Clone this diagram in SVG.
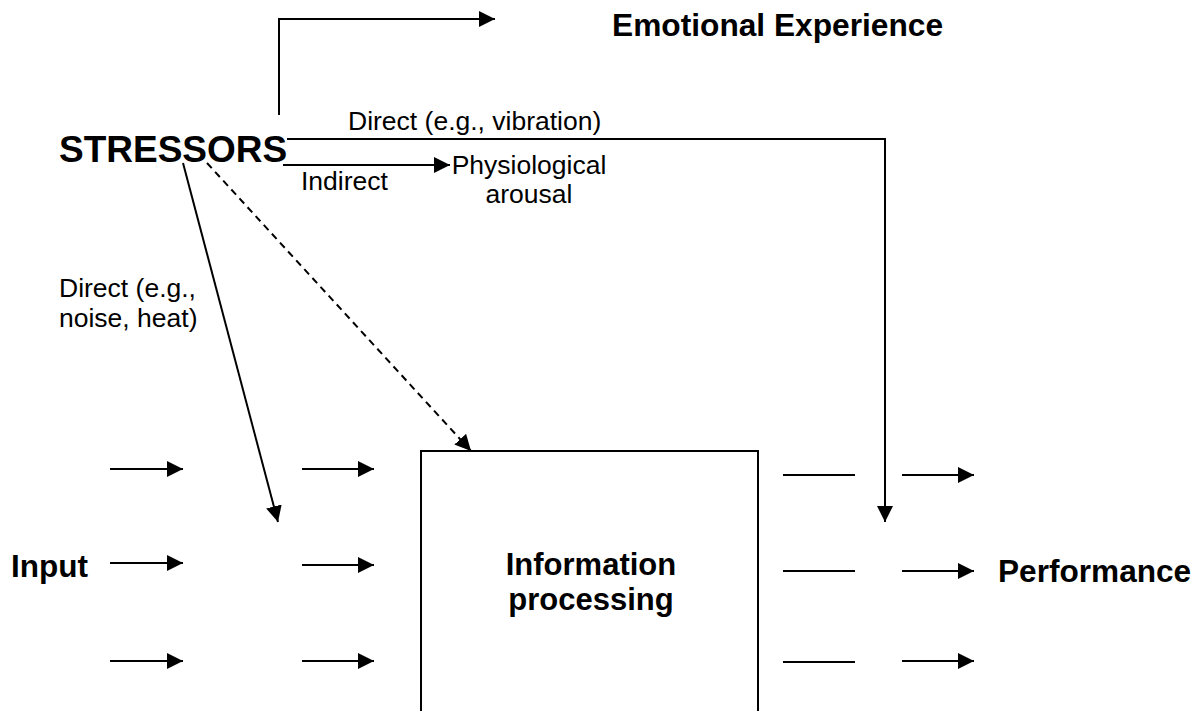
<svg xmlns="http://www.w3.org/2000/svg" width="1204" height="711" viewBox="0 0 1204 711">
<style>
.ln{fill:none;stroke:#000;stroke-width:2}
.dash{stroke-dasharray:7 5}
.bold{font-family:"Liberation Sans",Arial,sans-serif;font-weight:bold;fill:#000}
.reg{font-family:"Liberation Sans",Arial,sans-serif;fill:#000;font-size:26.5px}
</style>
<defs>
<marker id="ah" markerUnits="userSpaceOnUse" markerWidth="16" markerHeight="16" refX="16" refY="8" orient="auto">
<path d="M0,0 L16,8 L0,16 z" fill="#000"/>
</marker>
</defs>
<rect width="1204" height="711" fill="#fff"/>
<g id="stressors"><text class="bold" x="59" y="162" font-size="37">STRESSORS</text></g>
<g id="emotional"><text class="bold" x="612" y="36" font-size="31.7">Emotional Experience</text></g>
<g id="physio"><text class="reg" x="529" y="174" text-anchor="middle">Physiological</text><text class="reg" x="529" y="203" text-anchor="middle">arousal</text></g>
<g id="input"><text class="bold" x="11" y="577" font-size="31.5">Input</text></g>
<g id="box"><rect x="421" y="451" width="337" height="280" fill="none" stroke="#000" stroke-width="2"/>
<text class="bold" x="591" y="575" font-size="31" text-anchor="middle">Information</text>
<text class="bold" x="591" y="610" font-size="31" text-anchor="middle">processing</text></g>
<g id="performance"><text class="bold" x="998" y="582" font-size="31.6">Performance</text></g>
<g id="labels">
<text class="reg" x="348" y="130">Direct (e.g., vibration)</text>
<text class="reg" x="301" y="190">Indirect</text>
<text class="reg" x="59" y="297">Direct (e.g.,</text>
<text class="reg" x="59" y="327">noise, heat)</text>
</g>
<g id="connectors">
<path class="ln" d="M279,115 V19 H495" marker-end="url(#ah)"/>
<path class="ln" d="M287,139 H885 V522" marker-end="url(#ah)"/>
<path class="ln" d="M283,165 H450" marker-end="url(#ah)"/>
<path class="ln" d="M183,163 L278,522" marker-end="url(#ah)"/>
<path class="ln dash" d="M207,163 L471,451" marker-end="url(#ah)"/>
<path class="ln" d="M110,469 H183" marker-end="url(#ah)"/>
<path class="ln" d="M110,563 H183" marker-end="url(#ah)"/>
<path class="ln" d="M110,661 H183" marker-end="url(#ah)"/>
<path class="ln" d="M302,469 H374" marker-end="url(#ah)"/>
<path class="ln" d="M302,565 H374" marker-end="url(#ah)"/>
<path class="ln" d="M302,661 H374" marker-end="url(#ah)"/>
<path class="ln" d="M783,475 H855"/>
<path class="ln" d="M783,571 H855"/>
<path class="ln" d="M783,662 H855"/>
<path class="ln" d="M902,475 H974" marker-end="url(#ah)"/>
<path class="ln" d="M902,571 H974" marker-end="url(#ah)"/>
<path class="ln" d="M902,661 H974" marker-end="url(#ah)"/>
</g>
</svg>
